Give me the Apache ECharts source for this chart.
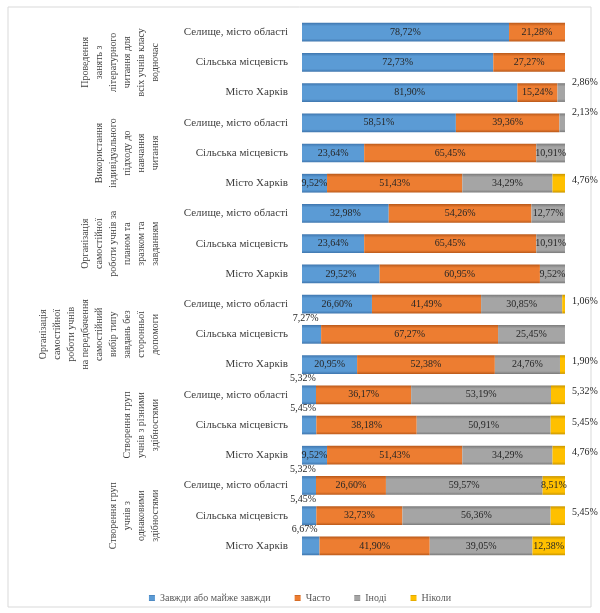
<!DOCTYPE html>
<html>
<head>
<meta charset="utf-8">
<script src="https://cdn.jsdelivr.net/npm/echarts@6/dist/echarts.min.js"></script>
<style>html,body{margin:0;padding:0;background:#fff;}#c{width:600px;height:613px;}</style>
</head>
<body>
<div id="c"></div>
<script>
// ---- data ----
const places = ["Селище, місто області", "Сільська місцевість", "Місто Харків"];
const groups = [
  "Проведення\nзанять з\nлітературного\nчитання для\nвсіх учнів класу\nводночас",
  "Використання\nіндивідуального\nпідходу до\nнавчання\nчитання",
  "Організація\nсамостійної\nроботи учнів за\nпланом та\nзразком та\nзавданням",
  "Організація\nсамостійної\nроботи учнів\nна передбачення\nсамостійний\nвибір типу\nзавдань без\nсторонньої\nдопомоги",
  "Створення груп\nучнів з різними\nздібностями",
  "Створення груп\nучнів з\nоднаковими\nздібностями"
];
const seriesNames = ["Завжди або майже завжди", "Часто", "Іноді", "Ніколи"];
const always    = [78.72, 72.73, 81.90, 58.51, 23.64, 9.52, 32.98, 23.64, 29.52, 26.60, 7.27, 20.95, 5.32, 5.45, 9.52, 5.32, 5.45, 6.67];
const often     = [21.28, 27.27, 15.24, 39.36, 65.45, 51.43, 54.26, 65.45, 60.95, 41.49, 67.27, 52.38, 36.17, 38.18, 51.43, 26.60, 32.73, 41.90];
const sometimes = [0, 0, 2.86, 2.13, 10.91, 34.29, 12.77, 10.91, 9.52, 30.85, 25.45, 24.76, 53.19, 50.91, 34.29, 59.57, 56.36, 39.05];
const never     = [0, 0, 0, 0, 0, 4.76, 0, 0, 0, 1.06, 0, 1.90, 5.32, 5.45, 4.76, 8.51, 5.45, 12.38];

const categories = [];
groups.forEach(() => places.forEach(p => categories.push(p)));

const colors = ["#5B9BD5", "#ED7D31", "#A5A5A5", "#FFC000"];
const darks  = ["#3F76AE", "#B9591A", "#7B7B7B", "#C99600"];
const serif = "Liberation Serif";

function grad(i) {
  return new echarts.graphic.LinearGradient(0, 0, 0, 1, [
    {offset: 0, color: darks[i]},
    {offset: 0.18, color: colors[i]},
    {offset: 0.85, color: colors[i]},
    {offset: 1, color: darks[i]}
  ]);
}
function fmt(v) { return v.toFixed(2).replace('.', ',') + '%'; }

const all = [always, often, sometimes, never];
function buildData(si) {
  return all[si].map((v, k) => {
    const item = {value: v};
    const lbl = {};
    if (v === 0) { lbl.show = false; }
    else if (si === 0 && v < 9) { lbl.position = 'top'; lbl.offset = [-6, 3]; }
    else if (si === 3 && v < 6) { lbl.position = 'right'; lbl.offset = [2, -3]; }
    else if (si === 2 && never[k] === 0 && v < 4) { lbl.position = 'right'; lbl.offset = [2, -10]; }
    item.label = lbl;
    return item;
  });
}

const chart = echarts.init(document.getElementById('c'));
chart.setOption({
  animation: false,
  backgroundColor: '#fff',
  graphic: [{
    type: 'rect', shape: {x: 8, y: 7, width: 583, height: 600},
    style: {fill: 'none', stroke: '#d9d9d9', lineWidth: 1}, silent: true
  }],
  grid: {left: 302, right: 35, top: 17, bottom: 52},
  legend: {
    data: seriesNames, bottom: 5, left: 'center',
    icon: 'rect', itemWidth: 6, itemHeight: 6, itemGap: 24,
    textStyle: {fontFamily: serif, fontSize: 10, color: '#595959'}
  },
  xAxis: {type: 'value', min: 0, max: 100, show: false},
  yAxis: [{
    type: 'category', inverse: true, data: categories,
    axisLine: {show: false}, axisTick: {show: false},
    axisLabel: {interval: 0, margin: 14, fontFamily: serif, fontSize: 11, color: '#404040'}
  }, {
    type: 'category', inverse: true, data: groups, position: 'left', offset: 140,
    axisLine: {show: false}, axisTick: {show: false},
    axisLabel: {interval: 0, rotate: 90, margin: 0, fontFamily: serif, fontSize: 10, lineHeight: 14, color: '#404040'}
  }],
  series: seriesNames.map((n, i) => ({
    name: n, type: 'bar', stack: 'total', yAxisIndex: 0,
    barWidth: '62%',
    color: colors[i],
    itemStyle: {color: grad(i)},
    label: {
      show: true, position: 'inside', fontFamily: serif, fontSize: 10, color: '#262626',
      formatter: p => fmt(p.value)
    },
    data: buildData(i)
  }))
});
</script>
</body>
</html>
